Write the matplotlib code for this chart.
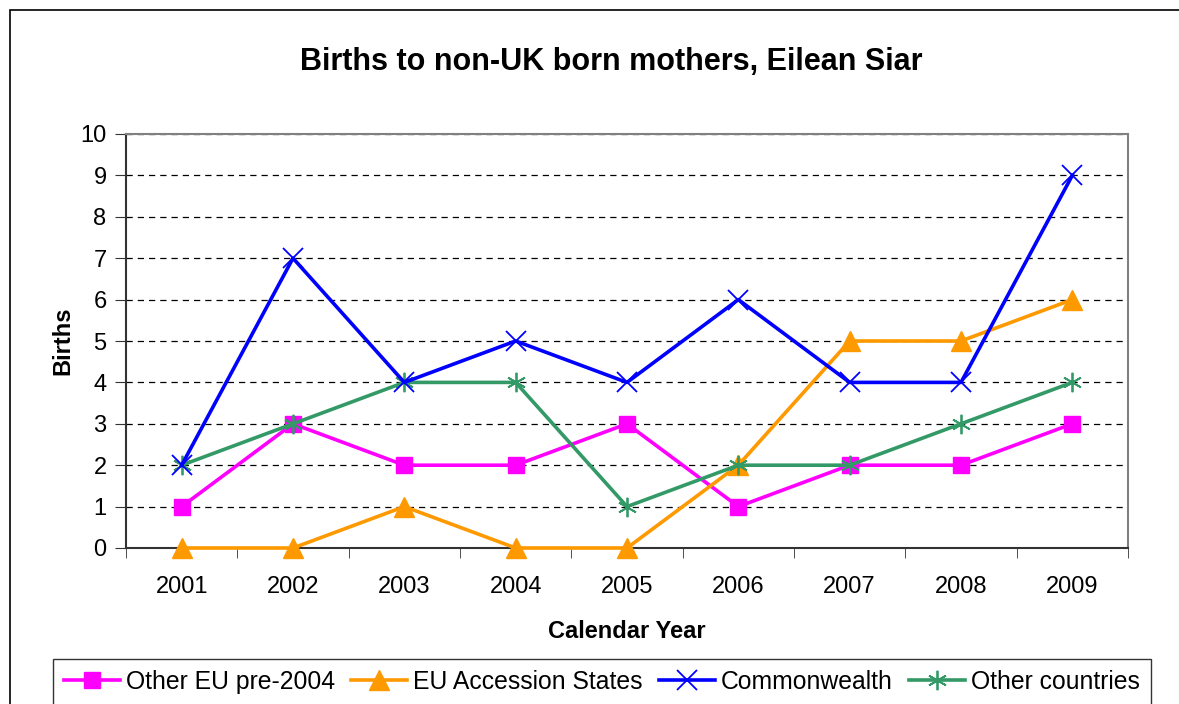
import matplotlib
matplotlib.use("Agg")
import matplotlib.pyplot as plt
from matplotlib.patches import Rectangle

years = ["2001", "2002", "2003", "2004", "2005", "2006", "2007", "2008", "2009"]
other_eu = [1, 3, 2, 2, 3, 1, 2, 2, 3]
eu_accession = [0, 0, 1, 0, 0, 2, 5, 5, 6]
commonwealth = [2, 7, 4, 5, 4, 6, 4, 4, 9]
other_countries = [2, 3, 4, 4, 1, 2, 2, 3, 4]
yticks = list(range(0, 11))

plt.rcParams['font.family'] = ['Liberation Sans', 'DejaVu Sans']

W, H = 1179, 704
fig = plt.figure(figsize=(W / 100, H / 100), dpi=100)

# outer frame
fig.patches.append(Rectangle((10 / W, -0.1), 1.2, 1 - 10 / H + 0.1, transform=fig.transFigure,
                             fill=False, edgecolor='black', linewidth=1.2))

ax = fig.add_axes([126 / W, (H - 548) / H, (1128 - 126) / W, (548 - 134) / H])
x = list(range(len(years)))

ax.plot(x, other_eu, color='#FF00FF', lw=2.6, marker='s', ms=11.5, label='Other EU pre-2004',
        zorder=3, clip_on=False)
ax.plot(x, eu_accession, color='#FF9900', lw=2.6, marker='^', ms=14, label='EU Accession States',
        zorder=3, clip_on=False)
ax.plot(x, commonwealth, color='#0000FF', lw=2.6, marker='x', ms=15, mew=1.3, label='Commonwealth',
        zorder=4, clip_on=False)
ax.plot(x, other_countries, color='#339966', lw=2.6, marker=(6, 2, 0), ms=14, mew=1.3,
        label='Other countries', zorder=3, clip_on=False)

ax.set_xlim(-0.5, len(years) - 0.5)
ax.set_ylim(0, 10)
ax.set_yticks(yticks)
ax.set_yticklabels([str(v) for v in yticks], fontsize=17)
ax.set_xticks(x)
ax.set_xticklabels(years, fontsize=17)
ax.set_xticks([i - 0.5 for i in range(len(years) + 1)], minor=True)
ax.tick_params(axis='x', which='major', length=0, pad=20)
ax.tick_params(axis='x', which='minor', length=7, direction='out', color='#333333')
ax.tick_params(axis='y', length=8, direction='out', color='#333333', pad=6)

ax.grid(axis='y', linestyle=(0, (5, 4)), color='black', linewidth=0.9)
ax.set_axisbelow(True)
for s in ['top', 'right']:
    ax.spines[s].set_color('#808080')
    ax.spines[s].set_linewidth(1.5)
for s in ['left', 'bottom']:
    ax.spines[s].set_color('#333333')
    ax.spines[s].set_linewidth(1.5)

ax.set_ylabel('Births', fontsize=17, fontweight='bold', labelpad=4)
ax.set_xlabel('Calendar Year', fontsize=17, fontweight='bold', labelpad=16)
fig.text(611 / W, 1 - 62 / H, 'Births to non-UK born mothers, Eilean Siar', ha='center', va='center',
         fontsize=22, fontweight='bold')

leg = fig.legend(loc='upper left', bbox_to_anchor=(53 / W, 1 - 659 / H), ncol=4, fontsize=17.8,
                 frameon=True, fancybox=False, edgecolor='black', handlelength=2.27,
                 handletextpad=0.24, columnspacing=0.65, borderpad=0.45, borderaxespad=0)
leg.get_frame().set_linewidth(1.0)

fig.savefig('out.png', dpi=100)
